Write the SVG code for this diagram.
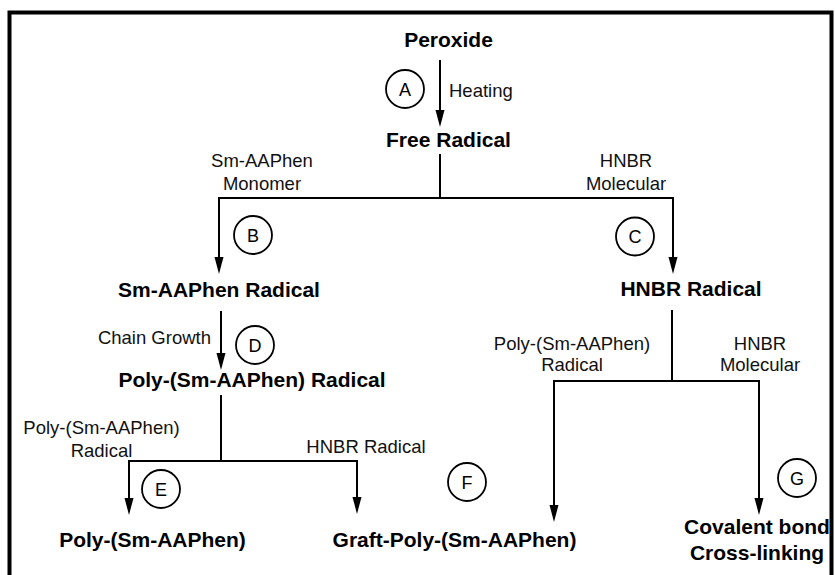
<svg xmlns="http://www.w3.org/2000/svg" width="835" height="575" viewBox="0 0 835 575">
<style>
.b{font-family:"Liberation Sans",Arial,sans-serif;font-weight:bold;font-size:21px;fill:#000;text-anchor:middle}
.l{font-family:"Liberation Sans",Arial,sans-serif;font-size:18.5px;fill:#111;text-anchor:middle}
.c{fill:none;stroke:#000;stroke-width:1.8}
.ct{font-family:"Liberation Sans",Arial,sans-serif;font-size:18px;fill:#000;text-anchor:middle}
.w{fill:none;stroke:#000;stroke-width:2}
.a{fill:none;stroke:#000;stroke-width:2;marker-end:url(#ah)}
</style>
<defs>
<marker id="ah" markerUnits="userSpaceOnUse" markerWidth="12" markerHeight="20" viewBox="0 0 12 20" refX="6" refY="18" orient="auto-start-reverse">
<path d="M0,0 L6,3 L12,0 L6,18 Z" transform="rotate(-90 6 9)" fill="#000"/>
</marker>
</defs>
<rect x="0" y="0" width="835" height="575" fill="#fff"/>
<rect x="9.5" y="12.5" width="822" height="620" fill="none" stroke="#000" stroke-width="4"/>
<g id="connectors">
<line class="w" x1="440" y1="60" x2="440" y2="112"/>
<polygon points="435.5,110 444.5,110 440,127" fill="#000"/>
<line class="w" x1="440" y1="154" x2="440" y2="198"/>
<polyline class="w" points="219,259 219,198 673,198 673,259"/>
<polygon points="214.5,257 223.5,257 219,274" fill="#000"/>
<polygon points="668.5,257 677.5,257 673,274" fill="#000"/>
<line class="w" x1="221" y1="311" x2="221" y2="355"/>
<polygon points="216.5,353 225.5,353 221,370" fill="#000"/>
<line class="w" x1="221" y1="395" x2="221" y2="461"/>
<polyline class="w" points="129,500 129,461 357,461 357,499"/>
<polygon points="124.5,498 133.5,498 129,515" fill="#000"/>
<polygon points="352.5,497 361.5,497 357,514" fill="#000"/>
<line class="w" x1="672" y1="310" x2="672" y2="381"/>
<polyline class="w" points="554,507 554,381 759,381 759,500"/>
<polygon points="549.5,505 558.5,505 554,522" fill="#000"/>
<polygon points="754.5,498 763.5,498 759,515" fill="#000"/>
</g>
<g id="peroxide"><text class="b" x="448.5" y="47">Peroxide</text></g>
<g id="stepA"><circle class="c" cx="405" cy="89" r="19"/><text class="ct" x="405" y="95.5">A</text><text class="l" x="449" y="97" style="text-anchor:start">Heating</text></g>
<g id="free-radical"><text class="b" x="448.5" y="147">Free Radical</text></g>
<g id="lbl-monomer"><text class="l" x="262" y="167">Sm-AAPhen</text><text class="l" x="262" y="189.5">Monomer</text></g>
<g id="lbl-hnbr-mol"><text class="l" x="626" y="167">HNBR</text><text class="l" x="626" y="190">Molecular</text></g>
<g id="stepB"><circle class="c" cx="253" cy="235" r="19"/><text class="ct" x="253" y="241.5">B</text></g>
<g id="stepC"><circle class="c" cx="635" cy="236.5" r="19"/><text class="ct" x="635" y="243">C</text></g>
<g id="sm-radical"><text class="b" x="219" y="297">Sm-AAPhen Radical</text></g>
<g id="hnbr-radical"><text class="b" x="691" y="296">HNBR Radical</text></g>
<g id="stepD"><text class="l" x="211" y="343.5" style="text-anchor:end">Chain Growth</text><circle class="c" cx="255" cy="345" r="19"/><text class="ct" x="255" y="351.5">D</text></g>
<g id="poly-radical"><text class="b" x="252" y="387">Poly-(Sm-AAPhen) Radical</text></g>
<g id="lbl-right"><text class="l" x="572" y="350">Poly-(Sm-AAPhen)</text><text class="l" x="572" y="371">Radical</text><text class="l" x="760" y="350">HNBR</text><text class="l" x="760" y="371">Molecular</text></g>
<g id="lbl-left"><text class="l" x="101.5" y="434.3">Poly-(Sm-AAPhen)</text><text class="l" x="101.5" y="456.7">Radical</text><text class="l" x="366" y="453.3">HNBR Radical</text></g>
<g id="stepE"><circle class="c" cx="161" cy="489" r="19"/><text class="ct" x="161" y="495.5">E</text></g>
<g id="stepF"><circle class="c" cx="467" cy="482" r="19"/><text class="ct" x="467" y="488.5">F</text></g>
<g id="stepG"><circle class="c" cx="797" cy="478" r="19"/><text class="ct" x="797" y="484.5">G</text></g>
<g id="poly"><text class="b" x="152.5" y="547">Poly-(Sm-AAPhen)</text></g>
<g id="graft"><text class="b" x="454.5" y="547">Graft-Poly-(Sm-AAPhen)</text></g>
<g id="crosslink"><text class="b" x="757" y="534">Covalent bond</text><text class="b" x="757" y="560">Cross-linking</text></g>
</svg>
